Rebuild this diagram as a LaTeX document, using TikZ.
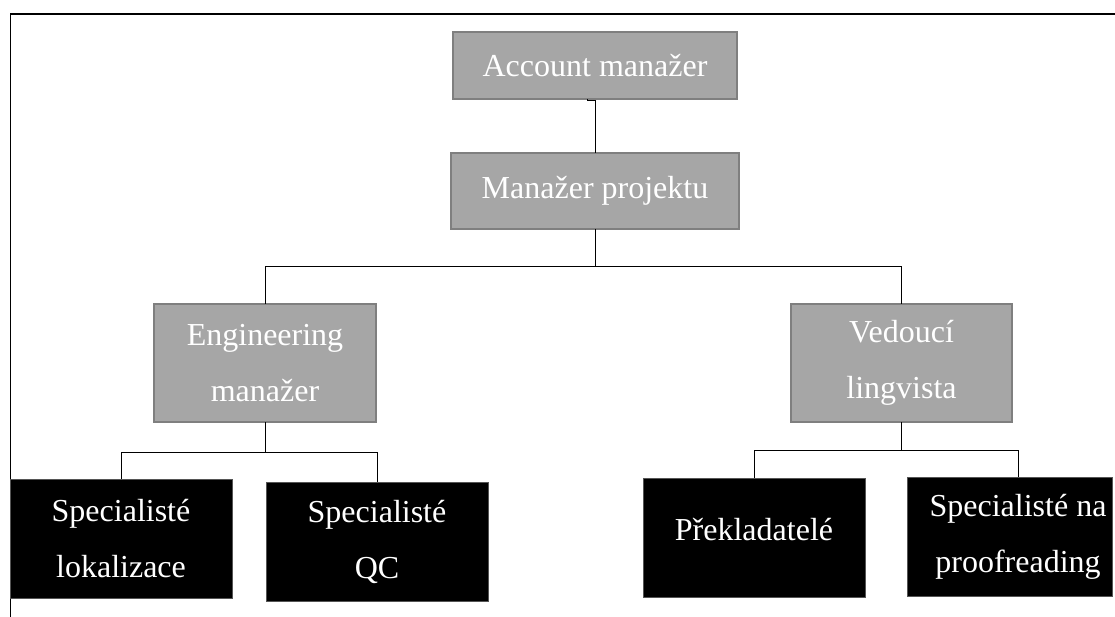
\documentclass[tikz,border=0pt]{standalone}
\usepackage{fontspec}
\setmainfont{Liberation Serif}
\definecolor{boxgray}{HTML}{A6A6A6}
\definecolor{edgegray}{HTML}{7F7F7F}
\definecolor{darkedge}{HTML}{555555}
\begin{document}
\begin{tikzpicture}[x=1pt,y=-1pt,
  every node/.style={inner sep=0pt, outer sep=0pt},
  graybox/.style={draw=edgegray, line width=1.4pt, fill=boxgray, text=white,
    font=\fontsize{32pt}{56pt}\selectfont, align=center},
  blackbox/.style={draw=darkedge, line width=0.8pt, fill=black, text=white,
    font=\fontsize{32pt}{56pt}\selectfont, align=center},
  conn/.style={draw=black, line width=1pt}]
\useasboundingbox (0,0) rectangle (1115,617);
% frame
\draw[line width=1.6pt] (10.5,617) -- (10.5,14) -- (1115,14);
% nodes
\node[graybox, minimum width=284pt, minimum height=67pt] (acc) at (595,65.5) {Account manažer};
\node[graybox, minimum width=288pt, minimum height=76pt] (pm) at (595,191) {Manažer projektu};
\node[graybox, minimum width=222pt, minimum height=118pt] (eng) at (265,363) {Engineering\\manažer};
\node[graybox, minimum width=221pt, minimum height=118pt] (ved) at (901.5,363) {Vedoucí\\lingvista};
\node[blackbox, minimum width=222pt, minimum height=119pt] (loc) at (121,538.5) {Specialisté\\lokalizace};
\node[blackbox, minimum width=222pt, minimum height=119pt] (qc) at (377,541.5) {Specialisté\\QC};
\node[blackbox, minimum width=222pt, minimum height=119pt, text height=28pt, text depth=23pt] (prek) at (754,537.5) {Překladatelé};
\node[blackbox, minimum width=205pt, minimum height=119pt] (proof) at (1009.5,536.5) {\hspace*{17pt}Specialisté na\\\hspace*{17pt}proofreading};
% bus coordinates
\coordinate (b1) at (0,267);
\coordinate (b2) at (0,452);
\coordinate (b3) at (0,450);
\coordinate (pf) at (1018,0);
% connectors
\draw[conn] ([xshift=-8pt]acc.south) -- ++(0,2) -| (pm.north);
\draw[conn] (pm.south) -- (pm.south |- b1) -| (eng.north);
\draw[conn] (pm.south |- b1) -| (ved.north);
\draw[conn] (eng.south) -- (eng.south |- b2) -| (loc.north);
\draw[conn] (eng.south |- b2) -| (qc.north);
\draw[conn] (ved.south) -- (ved.south |- b3) -| (prek.north);
\draw[conn] (ved.south |- b3) -| (pf |- proof.north);
\end{tikzpicture}
\end{document}
